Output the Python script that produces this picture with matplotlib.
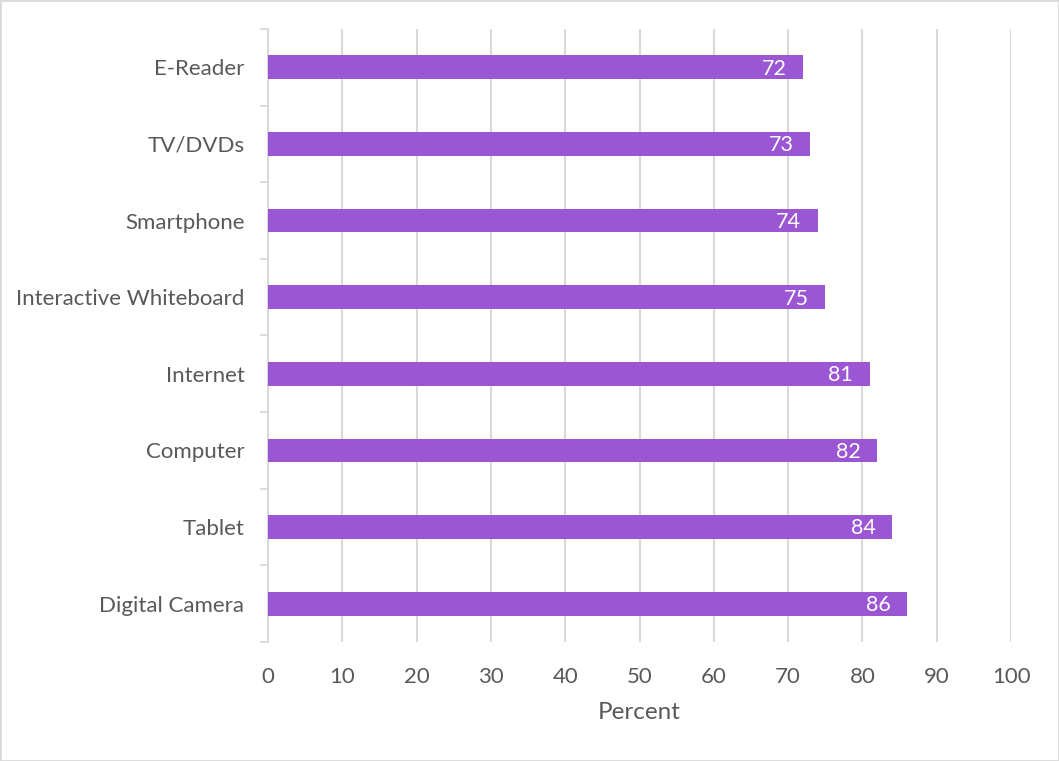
import matplotlib.pyplot as plt
from matplotlib.patches import Rectangle

devices = ["E-Reader", "TV/DVDs", "Smartphone", "Interactive Whiteboard",
           "Internet", "Computer", "Tablet", "Digital Camera"]
percent = [72, 73, 74, 75, 81, 82, 84, 86]
xticks = [0, 10, 20, 30, 40, 50, 60, 70, 80, 90, 100]

bar_color = "#9B57D3"
grid_color = "#D9D9D9"
text_color = "#595959"

plt.rcParams['font.family'] = ['Lato', 'DejaVu Sans']

fig = plt.figure(figsize=(10.59, 7.61), dpi=100)
ax = fig.add_axes([0.2531, 0.1564, 0.7016, 0.8055])

ypos = list(range(len(devices)))
bars = ax.barh(ypos, percent, height=0.31, color=bar_color, zorder=3)

for y, v in zip(ypos, percent):
    ax.annotate(str(v), xy=(v, y), xytext=(-12, -1), textcoords="offset points",
                ha="right", va="center", color="white", fontsize=15.5, zorder=4)

ax.set_xlim(0, 100)
ax.set_ylim(len(devices) - 0.5, -0.5)
ax.set_xticks(xticks)
ax.set_xticklabels([str(t) for t in xticks], fontsize=16, color=text_color)
ax.tick_params(axis="x", length=0, pad=18)
ax.set_xlabel("Percent", fontsize=17.5, color=text_color, labelpad=11)

# category labels centred on bars, tick marks between categories
ax.set_yticks(ypos)
ax.set_yticklabels(devices, fontsize=16, color=text_color)
ax.set_yticks([i + 0.5 for i in range(-1, len(devices))], minor=True)
ax.tick_params(axis="y", which="major", length=0, pad=17)
ax.tick_params(axis="y", which="minor", length=6, width=1.3, color=grid_color)

ax.grid(axis="x", color=grid_color, linewidth=1.5, zorder=0)
for side in ["top", "right", "bottom"]:
    ax.spines[side].set_visible(False)
ax.spines["left"].set_color(grid_color)
ax.spines["left"].set_linewidth(1.5)

fig.patches.append(Rectangle((0, 0), 1, 1, transform=fig.transFigure,
                             fill=False, edgecolor=grid_color, linewidth=2))

fig.savefig("out.png", dpi=100)
